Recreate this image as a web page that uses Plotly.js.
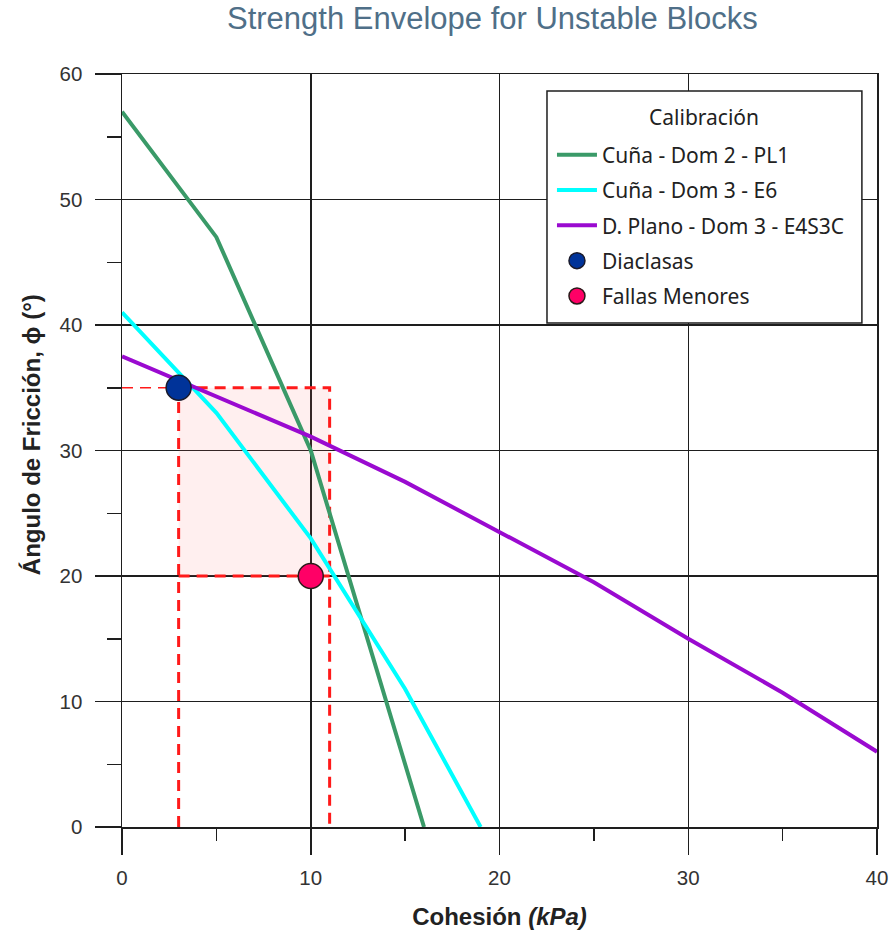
<!DOCTYPE html>
<html>
<head>
<meta charset="utf-8">
<script src="https://cdn.plot.ly/plotly-3.0.1.min.js"></script>
<style>
  html, body { margin: 0; padding: 0; background: #fff; }
  #chart { width: 892px; height: 930px; }
</style>
</head>
<body>
<div id="chart"></div>
<script>
// Envelope curves: cohesion (kPa) vs friction angle (deg)
const cunaDom2Cohesion = [0, 5, 10, 16];
const cunaDom2Friction = [57, 47, 30, 0];

const cunaDom3Cohesion = [0, 5, 10, 15, 19];
const cunaDom3Friction = [41, 33, 23, 11, 0];

const planoCohesion = [0, 5, 10, 15, 20, 25, 30, 35, 40];
const planoFriction = [37.5, 34.3, 31.1, 27.5, 23.5, 19.5, 15, 10.7, 6];

// Measured discontinuity parameters
const diaclasasCohesion = [3];
const diaclasasFriction = [35];
const fallasCohesion = [10];
const fallasFriction = [20];

// Calibration window (cohesion and friction bounds)
const cohesionRange = [3, 11];
const frictionRange = [20, 35];

const seriesNames = [
  'Cuña - Dom 2 - PL1',
  'Cuña - Dom 3 - E6',
  'D. Plano - Dom 3 - E4S3C',
  'Diaclasas',
  'Fallas Menores'
];
const legendTitle = 'Calibración';
const xTitle = '<b>Cohesión <i>(kPa)</i></b>';
const yTitle = '<b>Ángulo de Fricción, ϕ (°)</b>';

const [c0, c1] = cohesionRange;
const [f0, f1] = frictionRange;
const dash = { color: '#ff1a1a', width: 3, dash: '11px,7px' };

const traces = [
  // shaded calibration window
  { x: [c0, c1, c1, c0, c0], y: [f0, f0, f1, f1, f0], mode: 'none', fill: 'toself',
    fillcolor: 'rgba(255,110,110,0.11)', showlegend: false, hoverinfo: 'skip' },
  // window outline down to the axis
  { x: [0, c0], y: [f1, f1], mode: 'lines', line: Object.assign({}, dash, { width: 1.5 }),
    showlegend: false, hoverinfo: 'skip' },
  { x: [c0, c1, c1], y: [f1, f1, 0], mode: 'lines', line: dash, showlegend: false, hoverinfo: 'skip' },
  { x: [c0, c0], y: [0, f1], mode: 'lines', line: dash, showlegend: false, hoverinfo: 'skip' },
  { x: [c0, c1], y: [f0, f0], mode: 'lines', line: dash, showlegend: false, hoverinfo: 'skip' },

  { x: cunaDom2Cohesion, y: cunaDom2Friction, mode: 'lines', name: seriesNames[0],
    legendgroup: 'a', line: { color: '#3a9a68', width: 4 } },
  { x: cunaDom3Cohesion, y: cunaDom3Friction, mode: 'lines', name: seriesNames[1],
    legendgroup: 'b', line: { color: '#00ffff', width: 4 } },
  { x: planoCohesion, y: planoFriction, mode: 'lines', name: seriesNames[2],
    legendgroup: 'c', line: { color: '#9a0ad0', width: 4 } },
  { x: diaclasasCohesion, y: diaclasasFriction, mode: 'markers', name: seriesNames[3],
    legendgroup: 'd', marker: { color: '#003399', size: 25, line: { color: '#1a1a2a', width: 1.5 } } },
  { x: fallasCohesion, y: fallasFriction, mode: 'markers', name: seriesNames[4],
    legendgroup: 'e', marker: { color: '#ff0066', size: 25, line: { color: '#2a1a1a', width: 1.5 } } }
];

const tickFont = { family: 'Liberation Sans, Arial, sans-serif', size: 20.5, color: '#333' };
const titleFont = { family: 'Liberation Sans, Arial, sans-serif', size: 24, color: '#222' };
const legendFont = { family: 'Noto Sans, Open Sans, sans-serif', size: 21, color: '#222' };

const layout = {
  width: 892,
  height: 930,
  paper_bgcolor: '#ffffff',
  plot_bgcolor: '#ffffff',
  margin: { l: 122, r: 15, t: 74, b: 103 },
  title: {
    text: 'Strength Envelope for Unstable Blocks',
    font: { family: 'Liberation Sans, Arial, sans-serif', size: 31, color: '#4f6f88' },
    x: 0.552, xanchor: 'center', y: 0.98, yanchor: 'middle'
  },
  xaxis: {
    range: [0, 40],
    dtick: 10,
    showgrid: true, gridcolor: '#1e1e1e', gridwidth: 1.5,
    showline: true, linecolor: '#1e1e1e', linewidth: 1.5, mirror: true,
    zeroline: false,
    ticks: 'outside', ticklen: 26, tickwidth: 1.5, tickcolor: '#1e1e1e',
    ticklabelstandoff: 6,
    tickfont: tickFont,
    minor: { dtick: 5, ticklen: 12, ticks: 'outside', tickcolor: '#1e1e1e', tickwidth: 1.5, showgrid: false },
    title: { text: xTitle, font: titleFont, standoff: 27 },
    fixedrange: true
  },
  yaxis: {
    range: [0, 60],
    dtick: 10,
    showgrid: true, gridcolor: '#1e1e1e', gridwidth: 1.5,
    showline: true, linecolor: '#1e1e1e', linewidth: 1.5, mirror: true,
    zeroline: false,
    ticks: 'outside', ticklen: 26, tickwidth: 1.5, tickcolor: '#1e1e1e',
    ticklabelstandoff: 8,
    tickfont: tickFont,
    minor: { dtick: 5, ticklen: 14, ticks: 'outside', tickcolor: '#1e1e1e', tickwidth: 1.5, showgrid: false },
    fixedrange: true
  },
  // legend frame, drawn above the grid
  shapes: [{
    type: 'rect', xref: 'paper', yref: 'paper', layer: 'above',
    x0: 0.5629, x1: 0.980, y0: 0.6693, y1: 0.9774,
    fillcolor: '#ffffff', line: { color: '#1e1e1e', width: 1.5 }
  }],
  annotations: [
    { // legend heading
      text: legendTitle, xref: 'paper', yref: 'paper', x: 0.7715, y: 0.9429,
      xanchor: 'center', yanchor: 'middle', showarrow: false, font: legendFont
    },
    { // y-axis title
      text: yTitle, xref: 'paper', yref: 'paper', x: -0.119, y: 0.5206,
      xanchor: 'center', yanchor: 'middle', textangle: -90, showarrow: false, font: titleFont
    }
  ],
  legend: {
    x: 0.5695, y: 0.9195, xanchor: 'left', yanchor: 'top',
    bgcolor: 'rgba(0,0,0,0)',
    borderwidth: 0,
    traceorder: 'grouped',
    tracegroupgap: 5,
    itemsizing: 'trace',
    itemwidth: 40,
    font: legendFont
  },
  showlegend: true
};

Plotly.newPlot('chart', traces, layout, { displayModeBar: false, staticPlot: true });
</script>
</body>
</html>
